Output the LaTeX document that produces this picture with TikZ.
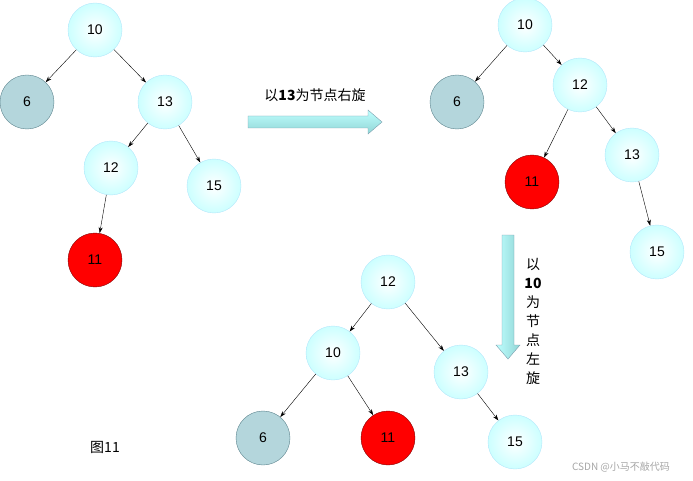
\documentclass[tikz,border=0pt]{standalone}
\usepackage{fontspec}
\setmainfont{Liberation Sans}
\newfontfamily\cjk{Noto Sans CJK SC}
\usetikzlibrary{arrows.meta}
\definecolor{grayteal}{RGB}{180,214,220}
\definecolor{grayedge}{RGB}{90,130,140}
\begin{document}
\begin{tikzpicture}[x=1pt,y=-1pt,
  nd/.style={circle,minimum size=54pt,inner sep=0pt,font=\fontsize{14}{16}\selectfont,draw=#1},
  cy/.style={nd=cyan!30!white,inner color=white,outer color=cyan!20!white},
  gr/.style={nd=grayedge,fill=grayteal},
  rd/.style={nd=red!50!black,fill=red},
  ed/.style={-{Stealth[length=6pt,width=4pt]},thin}]
\useasboundingbox (0,0) rectangle (693,481);
% tree 1
\node[cy] (a10) at (95,30) {10};
\node[gr] (a6) at (27,102) {6};
\node[cy] (a13) at (165,102) {13};
\node[cy] (a12) at (111,168) {12};
\node[cy] (a15) at (214,186) {15};
\node[rd] (a11) at (95,260) {11};
\draw[ed] (a10)--(a6); \draw[ed] (a10)--(a13);
\draw[ed] (a13)--(a12); \draw[ed] (a13)--(a15); \draw[ed] (a12)--(a11);
% tree 2
\node[cy] (b10) at (525,25) {10};
\node[gr] (b6) at (457,102) {6};
\node[cy] (b12) at (580,85) {12};
\node[rd] (b11) at (532,182) {11};
\node[cy] (b13) at (632,155) {13};
\node[cy] (b15) at (657,252) {15};
\draw[ed] (b10)--(b6); \draw[ed] (b10)--(b12);
\draw[ed] (b12)--(b11); \draw[ed] (b12)--(b13); \draw[ed] (b13)--(b15);
% tree 3
\node[cy] (c12) at (388,282) {12};
\node[cy] (c10) at (333,353) {10};
\node[cy] (c13) at (461,372) {13};
\node[gr] (c6) at (263,438) {6};
\node[rd] (c11) at (388,438) {11};
\node[cy] (c15) at (515,442) {15};
\draw[ed] (c12)--(c10); \draw[ed] (c12)--(c13);
\draw[ed] (c10)--(c6); \draw[ed] (c10)--(c11); \draw[ed] (c13)--(c15);
% block arrows
\draw[draw=gray!70!cyan,top color=cyan!25!white,bottom color=cyan!45!gray!60!white]
  (248,116)--(368,116)--(368,110)--(382,122)--(368,134)--(368,128)--(248,128)--cycle;
\draw[draw=gray!70!cyan,left color=cyan!25!white,right color=cyan!45!gray!60!white]
  (502,235)--(514,235)--(514,345)--(520,345)--(508,359)--(496,345)--(502,345)--cycle;
\node[font=\cjk\fontsize{14}{16}\selectfont] (t1) at (315,95) {以\textbf{13}为节点右旋};
\node[font=\cjk\fontsize{14}{19}\selectfont,align=center] (t2) at (533,321) {以\\\textbf{10}\\为\\节\\点\\左\\旋};
\node[font=\cjk\fontsize{14}{16}\selectfont] (t3) at (105,447) {图11};
\node[font=\cjk\fontsize{10}{11}\selectfont,text=gray!70] (t4) at (621,467) {CSDN @小马不敲代码};
\end{tikzpicture}
\end{document}
